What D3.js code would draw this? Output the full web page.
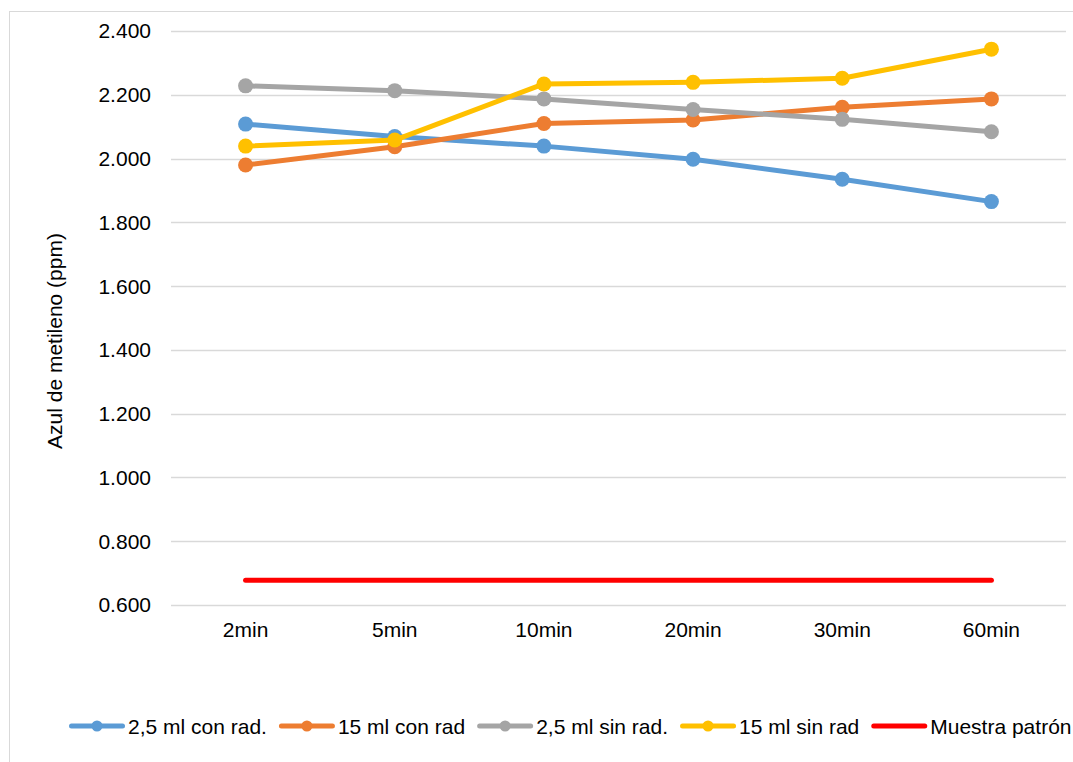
<!DOCTYPE html>
<html>
<head>
<meta charset="utf-8">
<script src="https://cdn.jsdelivr.net/npm/d3@7"></script>
<style>
  html, body { margin: 0; padding: 0; background: #fff; }
  svg { display: block; font-family: "Liberation Sans", Arial, sans-serif; }
</style>
</head>
<body>
<svg id="chart" width="1073" height="762"></svg>
<script>
// Sampling times
const categories = ["2min", "5min", "10min", "20min", "30min", "60min"];

// Methylene blue concentration (ppm) per series
const seriesNames = ["2,5 ml con rad.", "15 ml con rad", "2,5 ml sin rad.", "15 ml sin rad", "Muestra patrón"];
const conRad25 = [2.108, 2.069, 2.039, 1.998, 1.935, 1.865];
const conRad15 = [1.980, 2.037, 2.110, 2.121, 2.161, 2.187];
const sinRad25 = [2.228, 2.213, 2.187, 2.154, 2.123, 2.084];
const sinRad15 = [2.039, 2.058, 2.234, 2.239, 2.252, 2.343];
const patron   = [0.678, 0.678, 0.678, 0.678, 0.678, 0.678];

const yTicks = [0.6, 0.8, 1.0, 1.2, 1.4, 1.6, 1.8, 2.0, 2.2, 2.4];

const FONT = 21;

const series = [
  { name: seriesNames[0], values: conRad25, color: "#5B9BD5", markers: true },
  { name: seriesNames[1], values: conRad15, color: "#ED7D31", markers: true },
  { name: seriesNames[2], values: sinRad25, color: "#A5A5A5", markers: true },
  { name: seriesNames[3], values: sinRad15, color: "#FFC000", markers: true },
  { name: seriesNames[4], values: patron,   color: "#FF0000", markers: false }
];

const svg = d3.select("#chart");

// Chart frame (extends past the right edge of the canvas)
svg.append("rect")
  .attr("x", 9.5).attr("y", 11.5)
  .attr("width", 1100).attr("height", 800)
  .attr("fill", "#fff").attr("stroke", "#d9d9d9").attr("stroke-width", 1);

const plot = { left: 171, right: 1066, top: 31, bottom: 605 };

const x = d3.scaleBand().domain(categories).range([plot.left, plot.right]);
const y = d3.scaleLinear().domain([0.6, 2.4]).range([plot.bottom, plot.top]);
const cx = c => x(c) + x.bandwidth() / 2;

// Horizontal gridlines
svg.append("g")
  .selectAll("line")
  .data(yTicks)
  .join("line")
  .attr("x1", plot.left).attr("x2", plot.right)
  .attr("y1", d => Math.round(y(d)) + 0.5).attr("y2", d => Math.round(y(d)) + 0.5)
  .attr("stroke", "#d9d9d9").attr("stroke-width", 1.3);

// Y axis labels
const yAxis = svg.append("g")
  .attr("transform", `translate(${plot.left - 20},0)`)
  .call(d3.axisLeft(y).tickValues(yTicks).tickFormat(d3.format(".3f")).tickSize(0).tickPadding(0));
yAxis.select(".domain").remove();
yAxis.attr("font-size", FONT).attr("font-family", "Liberation Sans, Arial, sans-serif");
yAxis.selectAll("text").attr("fill", "#000").attr("dy", "0.33em");

// X axis labels
const xAxis = svg.append("g")
  .attr("transform", `translate(0,622)`)
  .call(d3.axisBottom(x).tickSize(0).tickPadding(0));
xAxis.select(".domain").remove();
xAxis.attr("font-size", FONT).attr("font-family", "Liberation Sans, Arial, sans-serif");
xAxis.selectAll("text").attr("fill", "#000");

// Y axis title
svg.append("text")
  .attr("transform", `translate(62,${(plot.top + plot.bottom) / 2 + 23}) rotate(-90)`)
  .attr("text-anchor", "middle")
  .attr("font-size", FONT).attr("fill", "#000")
  .text("Azul de metileno (ppm)");

// Series lines and markers (red reference line drawn first so it sits underneath)
const line = d3.line()
  .x((d, i) => cx(categories[i]))
  .y(d => y(d));

const drawOrder = [series[4], series[0], series[1], series[2], series[3]];
drawOrder.forEach(s => {
  const g = svg.append("g");
  g.append("path")
    .datum(s.values)
    .attr("d", line)
    .attr("fill", "none")
    .attr("stroke", s.color)
    .attr("stroke-width", 5)
    .attr("stroke-linecap", "round")
    .attr("stroke-linejoin", "round");
  if (s.markers) {
    g.selectAll("circle")
      .data(s.values)
      .join("circle")
      .attr("cx", (d, i) => cx(categories[i]))
      .attr("cy", d => y(d))
      .attr("r", 7.5)
      .attr("fill", s.color);
  }
});

// Legend
const legend = svg.append("g").attr("transform", "translate(69,726)");
let lx = 0;
series.forEach(s => {
  const g = legend.append("g").attr("transform", `translate(${lx},0)`);
  g.append("line")
    .attr("x1", 2.5).attr("x2", 53.5)
    .attr("y1", 0).attr("y2", 0)
    .attr("stroke", s.color).attr("stroke-width", 5)
    .attr("stroke-linecap", "round");
  if (s.markers) {
    g.append("circle").attr("cx", 28).attr("cy", 0).attr("r", 5.5).attr("fill", s.color);
  }
  const t = g.append("text")
    .attr("x", 59).attr("y", 7.5)
    .attr("font-size", FONT).attr("fill", "#000")
    .text(s.name);
  lx += 59 + t.node().getComputedTextLength() + 12;
});
</script>
</body>
</html>
